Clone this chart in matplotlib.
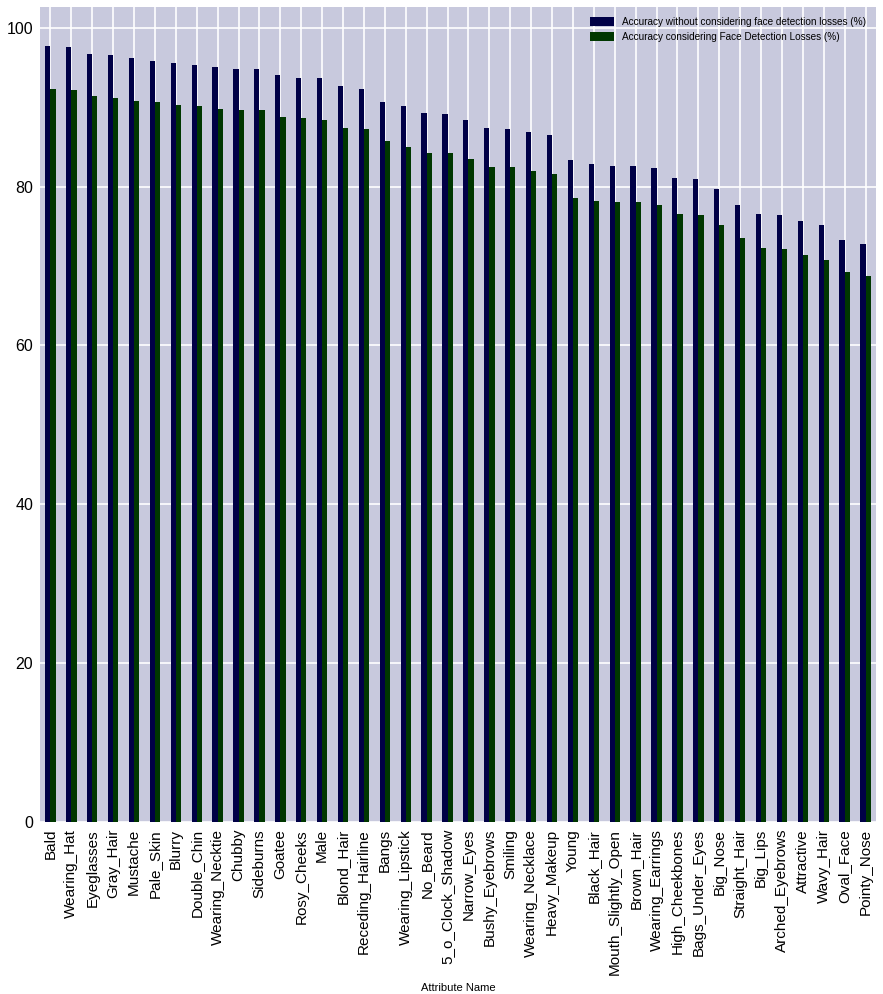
import matplotlib
matplotlib.use('Agg')
import matplotlib.pyplot as plt
import numpy as np

plt.rcParams['font.family'] = ['Liberation Sans', 'DejaVu Sans']

attributes = ['Bald', 'Wearing_Hat', 'Eyeglasses', 'Gray_Hair', 'Mustache', 'Pale_Skin',
              'Blurry', 'Double_Chin', 'Wearing_Necktie', 'Chubby', 'Sideburns', 'Goatee',
              'Rosy_Cheeks', 'Male', 'Blond_Hair', 'Receding_Hairline', 'Bangs',
              'Wearing_Lipstick', 'No_Beard', '5_o_Clock_Shadow', 'Narrow_Eyes',
              'Bushy_Eyebrows', 'Smiling', 'Wearing_Necklace', 'Heavy_Makeup', 'Young',
              'Black_Hair', 'Mouth_Slightly_Open', 'Brown_Hair', 'Wearing_Earrings',
              'High_Cheekbones', 'Bags_Under_Eyes', 'Big_Nose', 'Straight_Hair', 'Big_Lips',
              'Arched_Eyebrows', 'Attractive', 'Wavy_Hair', 'Oval_Face', 'Pointy_Nose']

acc_without = [97.7, 97.6, 96.7, 96.6, 96.2, 95.8, 95.5, 95.3, 95.0, 94.8, 94.8, 94.0,
               93.7, 93.6, 92.6, 92.3, 90.7, 90.1, 89.2, 89.1, 88.4, 87.4, 87.3, 86.9,
               86.5, 83.3, 82.8, 82.6, 82.6, 82.3, 81.1, 80.9, 79.7, 77.7, 76.5, 76.4,
               75.6, 75.1, 73.3, 72.8]

acc_with = [92.3, 92.1, 91.4, 91.2, 90.8, 90.6, 90.2, 90.1, 89.7, 89.6, 89.6, 88.7,
            88.6, 88.4, 87.4, 87.3, 85.7, 85.0, 84.2, 84.2, 83.5, 82.5, 82.4, 82.0,
            81.6, 78.6, 78.2, 78.1, 78.0, 77.7, 76.6, 76.4, 75.2, 73.5, 72.2, 72.1,
            71.4, 70.8, 69.2, 68.7]

fig = plt.figure(figsize=(8.83, 9.94), dpi=100)
ax = fig.add_axes([40 / 883, 1 - 822 / 994, 836 / 883, 815 / 994])
ax.set_facecolor('#c8c9dd')

x = np.arange(len(attributes))
w = 0.25
ax.bar(x - w / 2, acc_without, w, color='#000046',
       label='Accuracy without considering face detection losses (%)', zorder=2)
ax.bar(x + w / 2, acc_with, w, color='#003700',
       label='Accuracy considering Face Detection Losses (%)', zorder=2)

ax.set_xlim(-0.5, len(attributes) - 0.5)
ax.set_ylim(0, 102.6)
ax.set_xticks(x)
ax.set_xticklabels(attributes, rotation=90, fontsize=11)
ax.set_yticks([0, 20, 40, 60, 80, 100])
ax.tick_params(axis='y', labelsize=11.5)
ax.tick_params(length=0, pad=5)
ax.grid(True, color='white', linewidth=1.2, zorder=0)
ax.set_axisbelow(True)
for s in ax.spines.values():
    s.set_visible(False)

ax.set_xlabel('Attribute Name', fontsize=8, labelpad=6)
ax.legend(loc='upper right', fontsize=7.2, frameon=False, handlelength=2.4,
          handleheight=0.9, borderaxespad=0.6)

fig.savefig('out.png', dpi=100)
